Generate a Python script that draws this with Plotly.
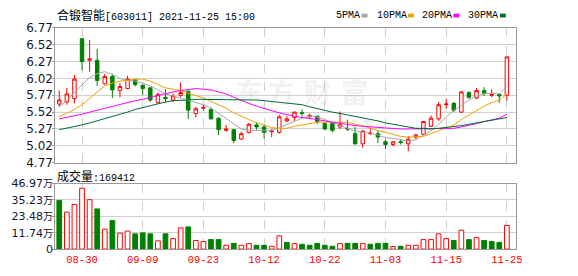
import plotly.graph_objects as go

# ---------------- data ----------------
dates = ["08-25", "08-26", "08-27", "08-30", "08-31",
         "09-01", "09-02", "09-03", "09-06", "09-07", "09-08", "09-09", "09-10",
         "09-13", "09-14", "09-15", "09-16", "09-17", "09-22", "09-23", "09-24",
         "09-27", "09-28", "09-29", "09-30",
         "10-08", "10-11", "10-12", "10-13", "10-14", "10-15", "10-18", "10-19",
         "10-20", "10-21", "10-22", "10-25", "10-26", "10-27", "10-28", "10-29",
         "11-01", "11-02", "11-03", "11-04", "11-05", "11-08", "11-09", "11-10",
         "11-11", "11-12", "11-15", "11-16", "11-17", "11-18", "11-19", "11-22",
         "11-23", "11-24", "11-25"]

open_ = [5.64, 5.67, 5.72, 6.61, 6.29, 6.29, 5.94, 6.05, 5.84, 5.87,
         6.00, 5.92, 5.88, 5.66, 5.74, 5.70, 5.77, 5.83, 5.50, 5.58,
         5.56, 5.43, 5.25, 5.26, 5.12, 5.22, 5.33, 5.30, 5.23, 5.22,
         5.39, 5.44, 5.51, 5.45, 5.46, 5.35, 5.35, 5.30, 5.28, 5.20,
         5.05, 5.20, 5.20, 5.08, 5.04, 5.08, 5.05, 5.15, 5.19, 5.31,
         5.42, 5.63, 5.65, 5.52, 5.81, 5.73, 5.84, 5.77, 5.78, 5.77]
high = [5.84, 5.88, 6.07, 6.61, 6.59, 6.46, 6.09, 6.09, 5.95, 6.06,
        6.01, 5.92, 5.89, 5.81, 5.86, 5.80, 5.96, 5.84, 5.60, 5.63,
        5.59, 5.44, 5.33, 5.27, 5.23, 5.36, 5.37, 5.33, 5.27, 5.48,
        5.46, 5.53, 5.56, 5.50, 5.47, 5.37, 5.37, 5.53, 5.41, 5.30,
        5.25, 5.29, 5.25, 5.11, 5.08, 5.12, 5.16, 5.20, 5.39, 5.47,
        5.67, 5.72, 5.67, 5.83, 5.83, 5.88, 5.89, 5.86, 5.80, 6.34]
low = [5.60, 5.63, 5.65, 6.14, 6.12, 5.91, 5.93, 5.73, 5.74, 5.86,
       5.90, 5.77, 5.67, 5.65, 5.66, 5.67, 5.74, 5.42, 5.44, 5.54,
       5.41, 5.18, 5.23, 5.06, 5.11, 5.20, 5.26, 5.13, 5.15, 5.20,
       5.37, 5.39, 5.45, 5.44, 5.34, 5.25, 5.22, 5.27, 5.24, 5.04,
       4.99, 5.18, 5.06, 4.97, 5.01, 5.04, 4.94, 5.12, 5.18, 5.30,
       5.39, 5.57, 5.52, 5.51, 5.72, 5.71, 5.76, 5.74, 5.66, 5.69]
close = [5.70, 5.79, 6.01, 6.27, 6.31, 5.99, 6.05, 5.85, 5.90, 6.01,
         5.93, 5.87, 5.70, 5.78, 5.72, 5.76, 5.81, 5.55, 5.57, 5.59,
         5.42, 5.26, 5.27, 5.10, 5.20, 5.34, 5.30, 5.22, 5.24, 5.45,
         5.42, 5.52, 5.50, 5.47, 5.38, 5.27, 5.25, 5.34, 5.27, 5.05,
         5.24, 5.21, 5.15, 5.04, 5.08, 5.07, 5.12, 5.18, 5.38, 5.43,
         5.63, 5.64, 5.55, 5.82, 5.74, 5.84, 5.80, 5.78, 5.76, 6.34]
prev_close = 5.75  # close of the day before the window

ma5 = [5.60, 5.69, 5.82, 5.93, 6.03, 6.09, 6.12, 6.08, 6.02, 5.99,
       5.98, 5.95, 5.91, 5.85, 5.79, 5.76, 5.73, 5.70, 5.67, 5.63,
       5.58, 5.50, 5.43, 5.34, 5.27, 5.25, 5.25, 5.24, 5.25, 5.29,
       5.33, 5.38, 5.43, 5.46, 5.45, 5.41, 5.36, 5.33, 5.29, 5.24,
       5.22, 5.21, 5.18, 5.14, 5.13, 5.11, 5.09, 5.11, 5.17, 5.24,
       5.34, 5.45, 5.55, 5.62, 5.70, 5.76, 5.79, 5.80, 5.79, 5.90]
ma10 = [5.45, 5.50, 5.56, 5.63, 5.72, 5.81, 5.91, 5.95, 5.98, 5.99,
        6.01, 6.01, 5.98, 5.93, 5.88, 5.86, 5.84, 5.80, 5.77, 5.73,
        5.68, 5.63, 5.58, 5.51, 5.46, 5.41, 5.36, 5.33, 5.29, 5.28,
        5.28, 5.31, 5.33, 5.36, 5.37, 5.37, 5.37, 5.38, 5.37, 5.34,
        5.32, 5.28, 5.25, 5.21, 5.18, 5.16, 5.15, 5.15, 5.16, 5.20,
        5.24, 5.28, 5.33, 5.41, 5.48, 5.55, 5.61, 5.66, 5.70, 5.79]
ma20 = [5.42, 5.44, 5.46, 5.49, 5.52, 5.55, 5.57, 5.60, 5.63, 5.66,
        5.69, 5.71, 5.74, 5.76, 5.79, 5.82, 5.84, 5.86, 5.87, 5.86,
        5.85, 5.82, 5.79, 5.74, 5.69, 5.65, 5.61, 5.57, 5.54, 5.51,
        5.48, 5.46, 5.44, 5.43, 5.41, 5.39, 5.37, 5.36, 5.34, 5.32,
        5.31, 5.30, 5.30, 5.29, 5.28, 5.27, 5.27, 5.27, 5.27, 5.27,
        5.27, 5.27, 5.28, 5.30, 5.32, 5.35, 5.38, 5.40, 5.43, 5.49]
ma30 = [5.26, 5.28, 5.30, 5.33, 5.36, 5.39, 5.42, 5.45, 5.49, 5.52,
        5.56, 5.59, 5.62, 5.65, 5.67, 5.69, 5.69, 5.70, 5.71, 5.71,
        5.71, 5.71, 5.71, 5.71, 5.70, 5.70, 5.70, 5.69, 5.68, 5.67,
        5.66, 5.65, 5.63, 5.60, 5.57, 5.55, 5.52, 5.50, 5.48, 5.45,
        5.43, 5.41, 5.39, 5.36, 5.34, 5.32, 5.30, 5.28, 5.28, 5.27,
        5.28, 5.29, 5.30, 5.32, 5.34, 5.36, 5.38, 5.40, 5.41, 5.44]

volume_wan = [34.9, 26.5, 32.0, 43.6, 35.4, 28.8, 14.3, 20.4, 11.4, 12.9,
              10.9, 11.6, 10.9, 5.9, 10.9, 7.5, 15.2, 15.9, 6.1, 5.4,
              6.8, 6.8, 2.7, 4.1, 2.7, 3.9, 2.7, 2.7, 2.0, 9.5,
              4.8, 3.9, 3.4, 2.7, 4.1, 2.7, 2.0, 3.9, 4.1, 4.1,
              3.9, 3.4, 4.1, 4.1, 1.8, 2.0, 2.7, 2.7, 6.8, 6.8,
              10.9, 7.5, 6.1, 13.6, 6.8, 8.2, 6.1, 5.4, 4.8, 16.9412]
last_volume = 169412

price_ticks = [4.77, 5.02, 5.27, 5.52, 5.77, 6.02, 6.27, 6.52, 6.77]
volume_ticks = [0, 11.74, 23.48, 35.23, 46.97]
volume_tick_numbers = ["0", "11.74", "23.48", "35.23", "46.97"]
volume_unit = "万"
date_ticks = ["08-30", "09-09", "09-23", "10-12", "10-22", "11-03", "11-15", "11-25"]

title_name = "合锻智能"
title_rest = "[603011] 2021-11-25 15:00"
volume_title = "成交量"
ma_names = ["5PMA", "10PMA", "20PMA", "30PMA"]
ma_colors = ["#a6a6a6", "#f2a100", "#ff00ff", "#006b32"]
watermark = ["东", "方", "财", "富"]

RED = "#ff0000"
GREEN = "#008000"

# ---------------- geometry helpers (styling only) ----------------
W, H = 578, 276
def px(x):
    return x / W
def py(y):
    return 1 - y / H

X0, X1 = 56, 522
PRICE_TOP, PRICE_BOT = 22, 164
VOL_TOP, VOL_BOT = 186, 255

fig = go.Figure()

fig.add_trace(go.Candlestick(
    x=dates, open=open_, high=high, low=low, close=close,
    increasing=dict(line=dict(color=RED, width=1), fillcolor="white"),
    decreasing=dict(line=dict(color=GREEN, width=1), fillcolor=GREEN),
    whiskerwidth=0, showlegend=False, hoverinfo="skip",
    xaxis="x", yaxis="y"))

for vals, col in zip([ma5, ma10, ma20, ma30], ma_colors):
    fig.add_trace(go.Scatter(x=dates, y=vals, mode="lines",
                             line=dict(color=col, width=1),
                             showlegend=False, hoverinfo="skip",
                             xaxis="x", yaxis="y"))

prevs = [prev_close] + close[:-1]
up = [c >= p for c, p in zip(close, prevs)]
fig.add_trace(go.Bar(
    x=dates, y=volume_wan, width=0.62,
    marker=dict(color=["white" if u else GREEN for u in up],
                line=dict(color=[RED if u else GREEN for u in up], width=1)),
    showlegend=False, hoverinfo="skip", xaxis="x2", yaxis="y2"))

volume_tick_text = [n if n == "0" else f"{n}<span style='font-size:10px'>{volume_unit}</span>"
                    for n in volume_tick_numbers]

xrange = [-0.52, 60.16]
common_x = dict(domain=[px(X0), px(X1)], range=xrange, type="category",
                tickvals=date_ticks, showgrid=True, gridcolor="#d0d0d0",
                griddash="dash", gridwidth=1, showline=True, mirror=True,
                linecolor="#999999", linewidth=1, ticks="", zeroline=False,
                fixedrange=True)
tickfont_y = dict(family="DejaVu Sans, Noto Sans CJK SC", size=12, color="#141432")
tickfont_v = dict(family="DejaVu Sans, Noto Sans CJK SC", size=11, color="#141432")

fig.update_layout(
    width=W, height=H, margin=dict(l=0, r=0, t=0, b=0),
    paper_bgcolor="white", plot_bgcolor="white",
    showlegend=False, boxgap=0.35,
    xaxis=dict(**common_x, anchor="y", showticklabels=False,
               rangeslider=dict(visible=False)),
    yaxis=dict(domain=[py(PRICE_BOT), py(PRICE_TOP)], range=[4.77, 6.77],
               tickvals=price_ticks, ticktext=[f"{v:.2f}" for v in price_ticks],
               showgrid=True, gridcolor="#d0d0d0", gridwidth=1,
               showline=True, mirror=True, linecolor="#999999",
               ticks="outside", ticklen=2, tickcolor="#999999",
               ticklabelstandoff=-3,
               tickfont=tickfont_y, zeroline=False, anchor="x"),
    xaxis2=dict(**common_x, anchor="y2", matches="x", showticklabels=True,
                ticktext=date_ticks,
                tickfont=dict(family="Liberation Mono", size=10.5, color=RED)),
    yaxis2=dict(domain=[py(VOL_BOT), py(VOL_TOP)], range=[0, 46.97],
                tickvals=volume_ticks, ticktext=volume_tick_text,
                showgrid=True, gridcolor="#d0d0d0", gridwidth=1,
                showline=True, mirror=True, linecolor="#999999",
                ticks="outside", ticklen=2, tickcolor="#999999",
                ticklabelstandoff=-3,
                tickfont=tickfont_v, zeroline=False, anchor="x2"),
)

annotations = []
# watermark
for ch, cx in zip(watermark, [253, 285, 321, 359]):
    annotations.append(dict(x=px(cx), y=py(89), xref="paper", yref="paper",
                            text=ch, showarrow=False, xanchor="center", yanchor="middle",
                            font=dict(family="Noto Sans CJK SC", size=27,
                                      color="rgba(150,150,150,0.15)", weight="bold")))
# title
annotations.append(dict(
    x=px(56), y=py(8), xref="paper", yref="paper", xanchor="left", yanchor="middle",
    showarrow=False,
    text=f"<span style='font-family:Noto Sans CJK SC;font-size:12px'>{title_name}</span>{title_rest}",
    font=dict(family="Liberation Mono", size=10, color="#000000")))
# volume label
annotations.append(dict(
    x=px(56), y=py(177), xref="paper", yref="paper", xanchor="left", yanchor="middle",
    showarrow=False,
    text=f"<span style='font-family:Noto Sans CJK SC;font-size:12px'>{volume_title}</span>:{last_volume}",
    font=dict(family="Liberation Mono", size=10, color="#000000")))

shapes = []
legend_x = [338, 380, 425, 472]
square_x = [366, 413, 459, 506]
for name, lx, sx, col in zip(ma_names, legend_x, square_x, ma_colors):
    annotations.append(dict(x=px(lx), y=py(9), xref="paper", yref="paper",
                            xanchor="left", yanchor="middle", showarrow=False,
                            text=name,
                            font=dict(family="Liberation Mono", size=10, color="#000000")))
    shapes.append(dict(type="rect", xref="paper", yref="paper",
                       x0=px(sx), x1=px(sx + 6), y0=py(11), y1=py(7),
                       fillcolor=col, line=dict(width=0)))

fig.update_layout(annotations=annotations, shapes=shapes)

fig.write_html("out.html")
